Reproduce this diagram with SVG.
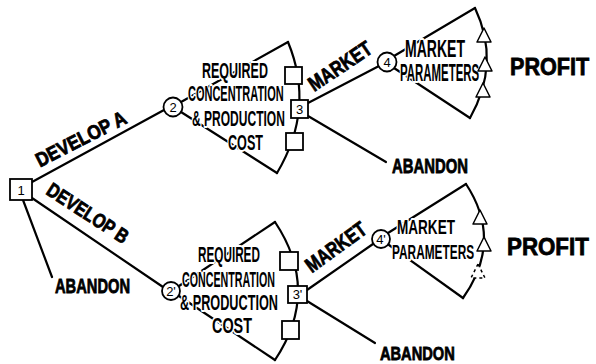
<svg xmlns="http://www.w3.org/2000/svg" width="596" height="364" viewBox="0 0 596 364">
<style>
.ln{fill:none;stroke:#000;stroke-width:2.2;stroke-linecap:round;stroke-linejoin:round}
.box{fill:#fff;stroke:#000;stroke-width:1.8}
.tri{fill:#fff;stroke:#000;stroke-width:1.5;stroke-linejoin:round}
.heavy{font-family:"Liberation Sans",Arial,sans-serif;font-weight:bold;fill:#000;stroke:#000;stroke-width:0.8}
.thin{font-family:"Liberation Sans",Arial,sans-serif;font-weight:bold;fill:#000;stroke:#fff;stroke-width:4;paint-order:stroke;stroke-linejoin:round}
.nl{font-family:"Liberation Sans",Arial,sans-serif;font-size:13px;fill:#000;text-anchor:middle}
</style>
<rect width="596" height="364" fill="#fff"/>
<g id="connectors">
<line class="ln" x1="32" y1="182" x2="164" y2="110"/>
<line class="ln" x1="32" y1="198" x2="163" y2="287"/>
<line class="ln" x1="23" y1="200" x2="52" y2="277"/>
<line class="ln" x1="181" y1="102" x2="288" y2="42"/>
<path class="ln" d="M288,42 Q315.5,108.5 277,173"/>
<line class="ln" x1="181" y1="112" x2="277" y2="173"/>
<line class="ln" x1="308" y1="103" x2="379" y2="66"/>
<line class="ln" x1="308" y1="116" x2="386" y2="162"/>
<line class="ln" x1="394" y1="56" x2="475" y2="8"/>
<path class="ln" d="M475,8 Q501,63 470,118"/>
<line class="ln" x1="394" y1="68" x2="470" y2="118"/>
<line class="ln" x1="179" y1="286" x2="275" y2="222"/>
<path class="ln" d="M275,222 Q321,291 275,360"/>
<line class="ln" x1="179" y1="296" x2="275" y2="360"/>
<line class="ln" x1="307" y1="290" x2="373" y2="244"/>
<line class="ln" x1="307" y1="301" x2="375" y2="343"/>
<line class="ln" x1="388" y1="233" x2="466" y2="184"/>
<path class="ln" d="M466,184 Q503.5,241 463,298"/>
<line class="ln" x1="389" y1="245" x2="463" y2="298"/>
</g>
<g id="labels">
<text class="heavy" font-size="20" text-anchor="middle" transform="translate(84,145) rotate(-27) scale(0.865,1)">DEVELOP A</text>
<text class="heavy" font-size="20" text-anchor="middle" transform="translate(84,219) rotate(33) scale(0.81,1)">DEVELOP B</text>
<text class="heavy" font-size="20" transform="translate(55,293) scale(0.734,1)">ABANDON</text>
<text class="heavy" font-size="20" transform="translate(392,173) scale(0.744,1)">ABANDON</text>
<text class="heavy" font-size="19" transform="translate(380,360) scale(0.77,1)">ABANDON</text>
<text class="heavy" font-size="21" text-anchor="middle" transform="translate(344,72) rotate(-34) scale(0.8,1)">MARKET</text>
<text class="heavy" font-size="21" text-anchor="middle" transform="translate(340,253) rotate(-36) scale(0.78,1)">MARKET</text>
<text class="heavy" font-size="24" transform="translate(510,75) scale(0.9,1)">PROFIT</text>
<text class="heavy" font-size="24" transform="translate(507,255) scale(0.93,1)">PROFIT</text>
<text class="thin" font-size="22" transform="translate(202,78) scale(0.568,1)">REQUIRED</text>
<text class="thin" font-size="22" transform="translate(188,101) scale(0.5,1)">CONCENTRATION</text>
<text class="thin" font-size="22" transform="translate(192,126) scale(0.547,1)">&amp; PRODUCTION</text>
<text class="thin" font-size="22" transform="translate(228,150) scale(0.573,1)">COST</text>
<text class="thin" font-size="22" transform="translate(198,262) scale(0.534,1)">REQUIRED</text>
<text class="thin" font-size="22" transform="translate(182,287) scale(0.486,1)">CONCENTRATION</text>
<text class="thin" font-size="22" transform="translate(180,310) scale(0.577,1)">&amp; PRODUCTION</text>
<text class="thin" font-size="22" transform="translate(212,333) scale(0.655,1)">COST</text>
<text class="thin" font-size="23" transform="translate(405,57) scale(0.61,1)">MARKET</text>
<text class="thin" font-size="23" transform="translate(400,81) scale(0.497,1)">PARAMETERS</text>
<text class="thin" font-size="21" transform="translate(397,234) scale(0.646,1)">MARKET</text>
<text class="thin" font-size="21" transform="translate(392,259) scale(0.565,1)">PARAMETERS</text>
</g>
<g id="node1"><rect class="box" x="10" y="179" width="22" height="21"/><text class="nl" x="21" y="195" font-size="14">1</text></g>
<g id="node2"><circle class="box" cx="173" cy="107" r="9.5"/><text class="nl" x="173" y="112">2</text></g>
<g id="node2b"><circle class="box" cx="171" cy="291" r="9"/><text class="nl" x="171" y="296">2'</text></g>
<g id="node3"><rect class="box" x="291" y="100" width="17" height="18"/><text class="nl" x="299.5" y="114">3</text></g>
<g id="node3b"><rect class="box" x="288" y="286" width="19" height="17"/><text class="nl" x="297.5" y="299">3'</text></g>
<g id="node4"><circle class="box" cx="387" cy="62" r="9.5"/><text class="nl" x="387" y="67">4</text></g>
<g id="node4b"><circle class="box" cx="381" cy="239" r="9"/><text class="nl" x="381" y="244">4'</text></g>
<g id="sampleA1"><rect class="box" x="285" y="67" width="17" height="17"/></g>
<g id="sampleA2"><rect class="box" x="286" y="133" width="17" height="17"/></g>
<g id="sampleB1"><rect class="box" x="280" y="252" width="18" height="18"/></g>
<g id="sampleB2"><rect class="box" x="282" y="321" width="17" height="18"/></g>
<g id="outcomesA">
<polygon class="tri" points="484,28 477,42 491,42"/>
<polygon class="tri" points="485,57 478,71 492,71"/>
<polygon class="tri" points="483,83 476,97 490,97"/>
</g>
<g id="outcomesB">
<polygon class="tri" points="480,210 473,224 487,224"/>
<polygon class="tri" points="484,237 477,251 491,251"/>
<polygon class="tri" points="478,264 471,278 485,278" stroke-dasharray="3 3"/>
</g>
</svg>
